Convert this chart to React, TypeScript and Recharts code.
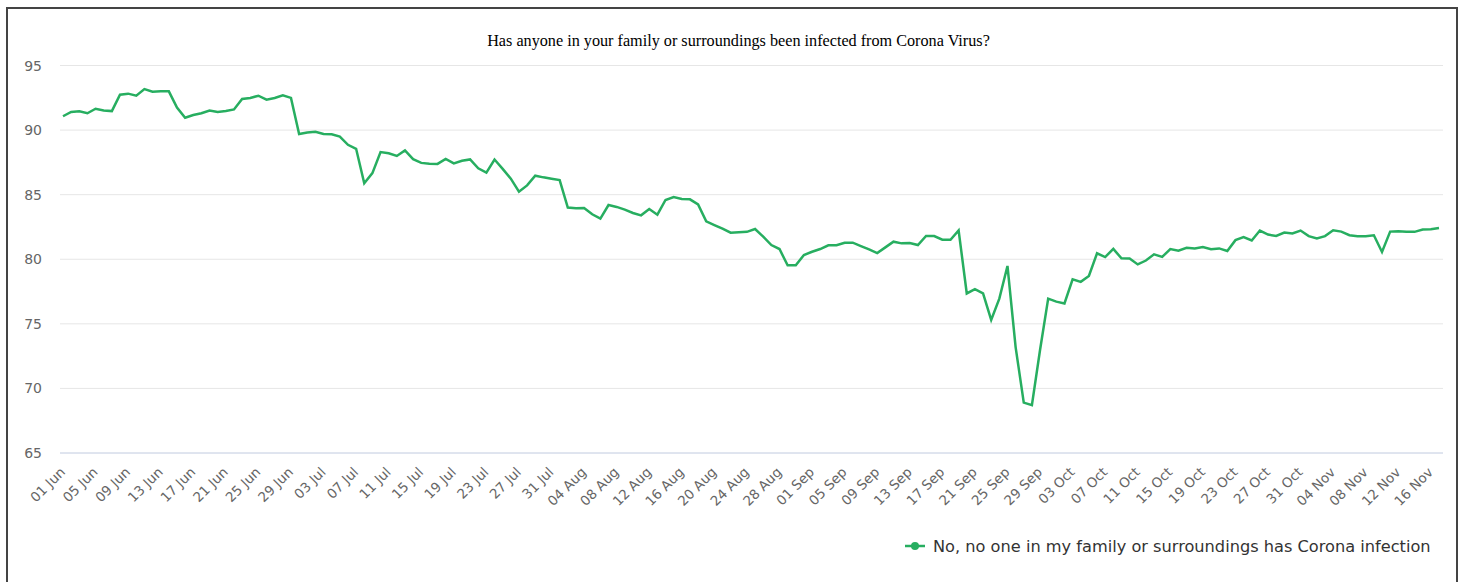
import React from "react";
import { LineChart, Line, XAxis, YAxis, CartesianGrid } from "recharts";

const dates = [
  "01 Jun", "02 Jun", "03 Jun", "04 Jun", "05 Jun", "06 Jun", "07 Jun", "08 Jun", "09 Jun", "10 Jun",
  "11 Jun", "12 Jun", "13 Jun", "14 Jun", "15 Jun", "16 Jun", "17 Jun", "18 Jun", "19 Jun", "20 Jun",
  "21 Jun", "22 Jun", "23 Jun", "24 Jun", "25 Jun", "26 Jun", "27 Jun", "28 Jun", "29 Jun", "30 Jun",
  "01 Jul", "02 Jul", "03 Jul", "04 Jul", "05 Jul", "06 Jul", "07 Jul", "08 Jul", "09 Jul", "10 Jul",
  "11 Jul", "12 Jul", "13 Jul", "14 Jul", "15 Jul", "16 Jul", "17 Jul", "18 Jul", "19 Jul", "20 Jul",
  "21 Jul", "22 Jul", "23 Jul", "24 Jul", "25 Jul", "26 Jul", "27 Jul", "28 Jul", "29 Jul", "30 Jul",
  "31 Jul", "01 Aug", "02 Aug", "03 Aug", "04 Aug", "05 Aug", "06 Aug", "07 Aug", "08 Aug", "09 Aug",
  "10 Aug", "11 Aug", "12 Aug", "13 Aug", "14 Aug", "15 Aug", "16 Aug", "17 Aug", "18 Aug", "19 Aug",
  "20 Aug", "21 Aug", "22 Aug", "23 Aug", "24 Aug", "25 Aug", "26 Aug", "27 Aug", "28 Aug", "29 Aug",
  "30 Aug", "31 Aug", "01 Sep", "02 Sep", "03 Sep", "04 Sep", "05 Sep", "06 Sep", "07 Sep", "08 Sep",
  "09 Sep", "10 Sep", "11 Sep", "12 Sep", "13 Sep", "14 Sep", "15 Sep", "16 Sep", "17 Sep", "18 Sep",
  "19 Sep", "20 Sep", "21 Sep", "22 Sep", "23 Sep", "24 Sep", "25 Sep", "26 Sep", "27 Sep", "28 Sep",
  "29 Sep", "30 Sep", "01 Oct", "02 Oct", "03 Oct", "04 Oct", "05 Oct", "06 Oct", "07 Oct", "08 Oct",
  "09 Oct", "10 Oct", "11 Oct", "12 Oct", "13 Oct", "14 Oct", "15 Oct", "16 Oct", "17 Oct", "18 Oct",
  "19 Oct", "20 Oct", "21 Oct", "22 Oct", "23 Oct", "24 Oct", "25 Oct", "26 Oct", "27 Oct", "28 Oct",
  "29 Oct", "30 Oct", "31 Oct", "01 Nov", "02 Nov", "03 Nov", "04 Nov", "05 Nov", "06 Nov", "07 Nov",
  "08 Nov", "09 Nov", "10 Nov", "11 Nov", "12 Nov", "13 Nov", "14 Nov", "15 Nov", "16 Nov", "17 Nov",
];

// share answering "No"
const noInfection = [
  91.07, 91.4, 91.45, 91.3, 91.65, 91.52, 91.47, 92.74, 92.82, 92.66,
  93.17, 92.97, 93.0, 93.0, 91.75, 90.96, 91.17, 91.3, 91.52, 91.4,
  91.47, 91.6, 92.41, 92.49, 92.66, 92.36, 92.49, 92.69, 92.49, 89.7,
  89.82, 89.87, 89.7, 89.67, 89.5, 88.86, 88.55, 85.89, 86.67, 88.3,
  88.2, 88.0, 88.42, 87.75, 87.46, 87.39, 87.38, 87.76, 87.42, 87.62,
  87.73, 87.04, 86.7, 87.72, 87.0, 86.24, 85.23, 85.72, 86.47, 86.34,
  86.24, 86.13, 84.0, 83.94, 83.97, 83.48, 83.14, 84.2, 84.05, 83.84,
  83.58, 83.4, 83.89, 83.45, 84.59, 84.82, 84.66, 84.64, 84.25, 82.94,
  82.65, 82.37, 82.06, 82.09, 82.12, 82.34, 81.75, 81.1, 80.79, 79.53,
  79.53, 80.33, 80.58, 80.79, 81.08, 81.08, 81.28, 81.28, 81.02, 80.77,
  80.48, 80.92, 81.36, 81.23, 81.26, 81.1, 81.8, 81.8, 81.51, 81.51,
  82.24, 77.35, 77.68, 77.35, 75.3, 76.95, 79.48, 73.2, 68.9, 68.7,
  72.97, 76.95, 76.72, 76.58, 78.45, 78.25, 78.7, 80.46, 80.17, 80.8,
  80.07, 80.05, 79.6, 79.9, 80.38, 80.18, 80.79, 80.66, 80.89, 80.84,
  80.94, 80.77, 80.84, 80.64, 81.48, 81.71, 81.45, 82.22, 81.91, 81.81,
  82.07, 81.99, 82.22, 81.79, 81.61, 81.79, 82.24, 82.14, 81.86, 81.79,
  81.79, 81.86, 80.56, 82.14, 82.17, 82.12, 82.12, 82.3, 82.32, 82.42,
];

const yTicks = [65, 70, 75, 80, 85, 90, 95];

const seriesName = "No, no one in my family or surroundings has Corona infection";
const green = "#27ae60";

const data = dates.map((d, i) => ({ date: d, no: noInfection[i] }));

const XTick = (props: any) => {
  const { x, y, payload } = props;
  const ax = x + 3;
  const ay = y + 12;
  return (
    <text
      x={ax}
      y={ay}
      transform={`rotate(-45 ${ax} ${ay})`}
      textAnchor="end"
      fill="#666666"
      fontSize={13.5}
      fontFamily="DejaVu Sans"
    >
      {payload.value}
    </text>
  );
};

const YTick = (props: any) => {
  const { x, y, payload } = props;
  return (
    <text
      x={x}
      y={y}
      dy={5}
      textAnchor="end"
      fill="#666666"
      fontSize={14}
      fontFamily="DejaVu Sans"
    >
      {payload.value}
    </text>
  );
};

export default function App() {
  return (
    <div style={{ position: "absolute", left: 0, top: 0, width: 1466, height: 582, overflow: "hidden", background: "#fff" }}>
      <div
        style={{
          position: "absolute",
          left: 6,
          top: 7,
          width: 1448,
          height: 620,
          border: "2px solid #444",
        }}
      />
      <div
        style={{
          position: "absolute",
          left: 0,
          top: 32,
          width: 1477,
          textAlign: "center",
          fontFamily: "Liberation Serif",
          fontSize: 16.2,
          color: "#000",
        }}
      >
        Has anyone in your family or surroundings been infected from Corona Virus?
      </div>
      <div style={{ position: "absolute", left: 0, top: 0 }}>
        <LineChart
          width={1466}
          height={582}
          data={data}
          margin={{ top: 65.5, right: 23, bottom: 69, left: 10 }}
        >
          <CartesianGrid horizontal vertical={false} stroke="#e6e6e6" />
          <XAxis
            dataKey="date"
            interval={3}
            tickLine={false}
            axisLine={{ stroke: "#ccd6eb" }}
            height={60}
            padding={{ left: 3, right: 4 }}
            tick={<XTick />}
          />
          <YAxis
            domain={[65, 95]}
            ticks={yTicks}
            width={50}
            axisLine={false}
            tickLine={false}
            tickMargin={12}
            tick={<YTick />}
          />
          <Line
            type="linear"
            dataKey="no"
            name={seriesName}
            stroke={green}
            strokeWidth={2.5}
            dot={false}
            isAnimationActive={false}
          />
        </LineChart>
      </div>
      <div
        style={{
          position: "absolute",
          left: 904,
          top: 536,
          display: "flex",
          alignItems: "center",
          fontFamily: "DejaVu Sans",
          fontSize: 16.2,
          color: "#333",
          whiteSpace: "nowrap",
        }}
      >
        <svg width={24} height={20} style={{ marginRight: 5 }}>
          <line x1={1} y1={10} x2={21} y2={10} stroke={green} strokeWidth={2.5} />
          <circle cx={11} cy={10} r={4} fill={green} />
        </svg>
        <span>{seriesName}</span>
      </div>
    </div>
  );
}
